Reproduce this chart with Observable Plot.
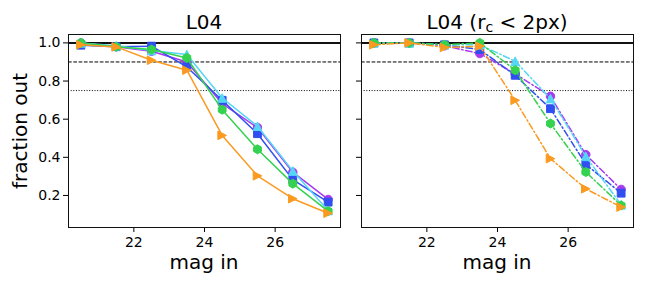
<!DOCTYPE html>
<html><head><meta charset="utf-8">
<script src="https://cdn.jsdelivr.net/npm/d3@7"></script>
<script src="https://cdn.jsdelivr.net/npm/@observablehq/plot@0.6"></script>
<style>
body{margin:0;background:#fff;}
#chart{position:relative;width:648px;height:288px;font-family:"DejaVu Sans",sans-serif;color:#000;overflow:hidden;background:#fff}
#chart svg{position:absolute;top:0}
.lbl{position:absolute;white-space:nowrap;font-size:20px;line-height:20px;color:#000}
.lbl sub{font-size:14px;line-height:0;vertical-align:-3px}
</style></head><body><div id="chart"></div>
<script>
// ---- data ----
const mags = [20.5, 21.5, 22.5, 23.5, 24.5, 25.5, 26.5, 27.5];
const seriesNames = ["purple", "blue", "cyan", "green", "orange"];
const seriesColors = ["#a63af0", "#2f4ff0", "#55d6f5", "#34d24e", "#fb9a20"];

// left panel: L04
const leftPurple = [1.000, 0.980, 0.956, 0.900, 0.682, 0.556, 0.322, 0.179];
const leftBlue   = [0.988, 0.980, 0.983, 0.874, 0.699, 0.524, 0.283, 0.165];
const leftCyan   = [1.000, 0.985, 0.960, 0.939, 0.711, 0.563, 0.328, 0.121];
const leftGreen  = [1.000, 0.980, 0.965, 0.921, 0.650, 0.442, 0.262, 0.118];
const leftOrange = [0.990, 0.979, 0.909, 0.857, 0.515, 0.303, 0.183, 0.107];

// right panel: L04 (r_c < 2px)
const rightPurple = [1.000, 1.000, 0.985, 0.944, 0.838, 0.720, 0.414, 0.232];
const rightBlue   = [1.000, 1.000, 0.990, 0.965, 0.830, 0.655, 0.363, 0.212];
const rightCyan   = [1.000, 1.000, 0.990, 0.990, 0.904, 0.708, 0.405, 0.151];
const rightGreen  = [1.000, 1.000, 0.990, 1.000, 0.857, 0.577, 0.323, 0.148];
const rightOrange = [0.990, 1.000, 0.976, 0.983, 0.699, 0.393, 0.235, 0.139];

const xTicks = [22, 24, 26];
const yTicks = [0.2, 0.4, 0.6, 0.8, 1.0];
const refLevels = [1.0, 0.9, 0.75];

// ---- marker shapes ----
const symCircle = {draw(c){ const r=4.2; c.moveTo(r,0); c.arc(0,0,r,0,2*Math.PI); c.closePath(); }};
const symSquare = {draw(c){ const h=3.9; c.moveTo(-h,-h); c.lineTo(h,-h); c.lineTo(h,h); c.lineTo(-h,h); c.closePath(); }};
const symTriUp = {draw(c){ const h=4.3; c.moveTo(0,-h); c.lineTo(h,h); c.lineTo(-h,h); c.closePath(); }};
const symHex = {draw(c){ const h=4.5; for(let k=0;k<6;k++){ const a=-Math.PI/2+k*Math.PI/3; const x=h*Math.cos(a), y=h*Math.sin(a); if(k) c.lineTo(x,y); else c.moveTo(x,y);} c.closePath(); }};
const symTriRight = {draw(c){ const h=4.3; c.moveTo(h,0); c.lineTo(-h,h); c.lineTo(-h,-h); c.closePath(); }};
const seriesSymbols = [symCircle, symSquare, symTriUp, symHex, symTriRight];

const xDomain = [20.15, 27.85];
const yDomain = [0.032, 1.044];

function panel(valueLists, dash, showYLabels, width, marginLeft, marginRight) {
  const marks = [
    Plot.ruleY([refLevels[0]], {stroke: "#111", strokeWidth: 2}),
    Plot.ruleY([refLevels[1]], {stroke: "#000", strokeWidth: 1, strokeDasharray: "3.7,1.6"}),
    Plot.ruleY([refLevels[2]], {stroke: "#000", strokeWidth: 1, strokeDasharray: "1,1.65"})
  ];
  valueLists.forEach((vals, i) => {
    const rows = mags.map((m, j) => ({mag: m, frac: vals[j], series: seriesNames[i]}));
    marks.push(Plot.line(rows, {x: "mag", y: "frac", stroke: seriesColors[i], strokeWidth: 1.5,
      strokeDasharray: dash, strokeLinejoin: "round"}));
    marks.push(Plot.dot(rows, {x: "mag", y: "frac", symbol: seriesSymbols[i], fill: seriesColors[i],
      stroke: seriesColors[i], strokeWidth: 1}));
  });
  marks.push(Plot.axisX(xTicks, {tickSize: 5, tickPadding: 5, fontSize: 14, label: null}));
  marks.push(Plot.axisY(yTicks, {tickSize: 5, tickPadding: 3, fontSize: 14, label: null,
    tickFormat: showYLabels ? d3.format(".1f") : () => ""}));
  marks.push(Plot.frame({stroke: "#111", strokeWidth: 1}));
  return Plot.plot({
    width, height: 288,
    marginTop: 34, marginBottom: 61, marginLeft, marginRight,
    x: {domain: xDomain, label: null},
    y: {domain: yDomain, label: null},
    style: {fontFamily: "DejaVu Sans, sans-serif", fontSize: "14px", color: "#000", background: "transparent", overflow: "visible"},
    marks
  });
}

const chart = document.getElementById("chart");
const left = panel([leftPurple, leftBlue, leftCyan, leftGreen, leftOrange], null, true, 350, 68, 10);
left.style.left = "0px";
const right = panel([rightPurple, rightBlue, rightCyan, rightGreen, rightOrange], "6.5,2.6,1.5,2.6", false, 298, 11, 15);
right.style.left = "350px";
chart.appendChild(left);
chart.appendChild(right);

function label(html, x, y, rotate) {
  const d = document.createElement("div");
  d.className = "lbl";
  d.innerHTML = html;
  d.style.left = x + "px";
  d.style.top = y + "px";
  d.style.transform = rotate ? "translate(-50%,-50%) rotate(-90deg)" : "translate(-50%,0)";
  chart.appendChild(d);
}
label("L04", 204, 11.5);
label("L04 (r<sub>c</sub> &lt; 2px)", 497, 11.5);
label("mag in", 204, 251.5);
label("mag in", 497, 251.5);
label("fraction out", 20, 130.5, true);
</script></body></html>
